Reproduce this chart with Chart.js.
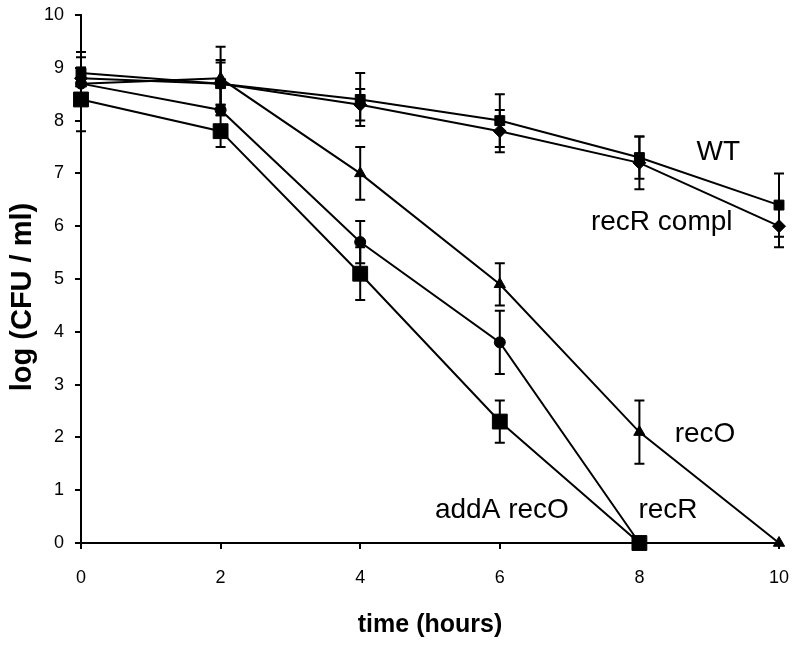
<!DOCTYPE html>
<html>
<head>
<meta charset="utf-8">
<script src="https://cdn.jsdelivr.net/npm/chart.js@4.4.1/dist/chart.umd.min.js"></script>
<style>
  html, body { margin: 0; padding: 0; background: #fff; }
  #wrap { width: 795px; height: 647px; }
</style>
</head>
<body>
<div id="wrap"><canvas id="c" width="795" height="647"></canvas></div>
<script>
// ---- data ----
const times = [0, 2, 4, 6, 8, 10];
const wtValues = [8.9, 8.7, 8.4, 8.0, 7.3, 6.4];
const wtErrors = [0.4, 0.45, 0.5, 0.5, 0.4, 0.6];
const recRcomplValues = [8.8, 8.7, 8.3, 7.8, 7.2, 6.0];
const recRcomplErrors = [0.4, 0.4, 0.3, 0.4, 0.5, 0.4];
const recOValues = [8.7, 8.8, 7.0, 4.9, 2.1, 0];
const recOErrors = [0.3, 0.6, 0.5, 0.4, 0.6, 0];
const recRValues = [8.7, 8.2, 5.7, 3.8, 0];
const recRErrors = [0.3, 0.1, 0.4, 0.6, 0];
const addArecOValues = [8.4, 7.8, 5.1, 2.3, 0];
const addArecOErrors = [0.6, 0.3, 0.5, 0.4, 0];
const yTicks = [0, 1, 2, 3, 4, 5, 6, 7, 8, 9, 10];
const xTicks = [0, 2, 4, 6, 8, 10];

const seriesNames = ['WT', 'recR compl', 'recO', 'recR', 'addA recO'];
const labelX = [9.13, 8.32, 8.94, 8.41, 6.03];
const labelY = [7.4, 6.08, 2.06, 0.62, 0.62];
const yTitle = 'log (CFU / ml)';
const xTitle = 'time (hours)';

const FONT = '"Liberation Sans", Arial, sans-serif';

function pts(vals) { return vals.map((v, i) => ({ x: times[i], y: v })); }

function ds(name, vals, errs, style, radius) {
  return {
    label: name,
    data: pts(vals),
    errors: errs,
    borderColor: '#000',
    backgroundColor: '#000',
    borderWidth: 2,
    pointStyle: style,
    pointRadius: radius,
    pointHoverRadius: radius,
    pointBorderWidth: 1,
    pointBackgroundColor: '#000',
    pointBorderColor: '#000',
    tension: 0,
    clip: false,
    fill: false
  };
}

const errorBarPlugin = {
  id: 'errorBars',
  beforeDatasetsDraw(chart) {
    const ctx = chart.ctx;
    const xs = chart.scales.x, ys = chart.scales.y;
    ctx.save();
    ctx.strokeStyle = '#000';
    ctx.lineWidth = 2;
    chart.data.datasets.forEach(d => {
      d.data.forEach((p, i) => {
        const e = d.errors[i];
        if (!e) return;
        const px = xs.getPixelForValue(p.x);
        const top = ys.getPixelForValue(p.y + e);
        const bot = ys.getPixelForValue(Math.max(0, p.y - e));
        ctx.beginPath();
        ctx.moveTo(px, top); ctx.lineTo(px, bot);
        ctx.moveTo(px - 5, top); ctx.lineTo(px + 5, top);
        ctx.moveTo(px - 5, bot); ctx.lineTo(px + 5, bot);
        ctx.stroke();
      });
    });
    ctx.restore();
  }
};

const labelPlugin = {
  id: 'seriesLabels',
  afterDatasetsDraw(chart) {
    const ctx = chart.ctx;
    const xs = chart.scales.x, ys = chart.scales.y;
    ctx.save();
    ctx.fillStyle = '#000';
    ctx.font = '28px ' + FONT;
    ctx.textAlign = 'center';
    ctx.textBaseline = 'middle';
    seriesNames.forEach((n, i) => {
      ctx.fillText(n, xs.getPixelForValue(labelX[i]), ys.getPixelForValue(labelY[i]));
    });
    // y axis title
    ctx.font = 'bold 29px ' + FONT;
    ctx.translate(23, 297);
    ctx.rotate(-Math.PI / 2);
    ctx.fillText(yTitle, 0, 0);
    ctx.restore();
  }
};

new Chart(document.getElementById('c'), {
  type: 'line',
  data: {
    datasets: [
      ds('WT', wtValues, wtErrors, 'rect', 7),
      ds('recR compl', recRcomplValues, recRcomplErrors, 'rectRot', 6.5),
      ds('recO', recOValues, recOErrors, 'triangle', 6.5),
      ds('recR', recRValues, recRErrors, 'circle', 5.5),
      ds('addA recO', addArecOValues, addArecOErrors, 'rect', 10.5)
    ]
  },
  options: {
    responsive: false,
    animation: false,
    devicePixelRatio: 1,
    layout: { padding: { top: 15, right: 16, left: 0, bottom: 0 } },
    plugins: { legend: { display: false }, tooltip: { enabled: false } },
    scales: {
      x: {
        type: 'linear',
        min: 0, max: 10,
        afterFit(s) { s.height = 104; s.paddingRight = 10; s.paddingLeft = 0; },
        afterBuildTicks(s) { s.ticks = xTicks.map(v => ({ value: v })); },
        ticks: { color: '#000', padding: 18, font: { family: FONT, size: 18 } },
        grid: { drawOnChartArea: false, drawTicks: true, tickLength: 6, color: '#000', lineWidth: 2 },
        border: { display: true, color: '#000', width: 2 },
        title: { display: true, text: xTitle, color: '#000', font: { family: FONT, size: 25, weight: 'bold' }, padding: { top: 0, bottom: 7 } }
      },
      y: {
        min: 0, max: 10,
        afterFit(s) { s.width = 81; s.paddingTop = 0; },
        afterBuildTicks(s) { s.ticks = yTicks.map(v => ({ value: v })); },
        ticks: { color: '#000', padding: 11, font: { family: FONT, size: 18 } },
        grid: { drawOnChartArea: false, drawTicks: true, tickLength: 6, color: '#000', lineWidth: 2 },
        border: { display: true, color: '#000', width: 2 },
        title: { display: false }
      }
    }
  },
  plugins: [errorBarPlugin, labelPlugin]
});
</script>
</body>
</html>
